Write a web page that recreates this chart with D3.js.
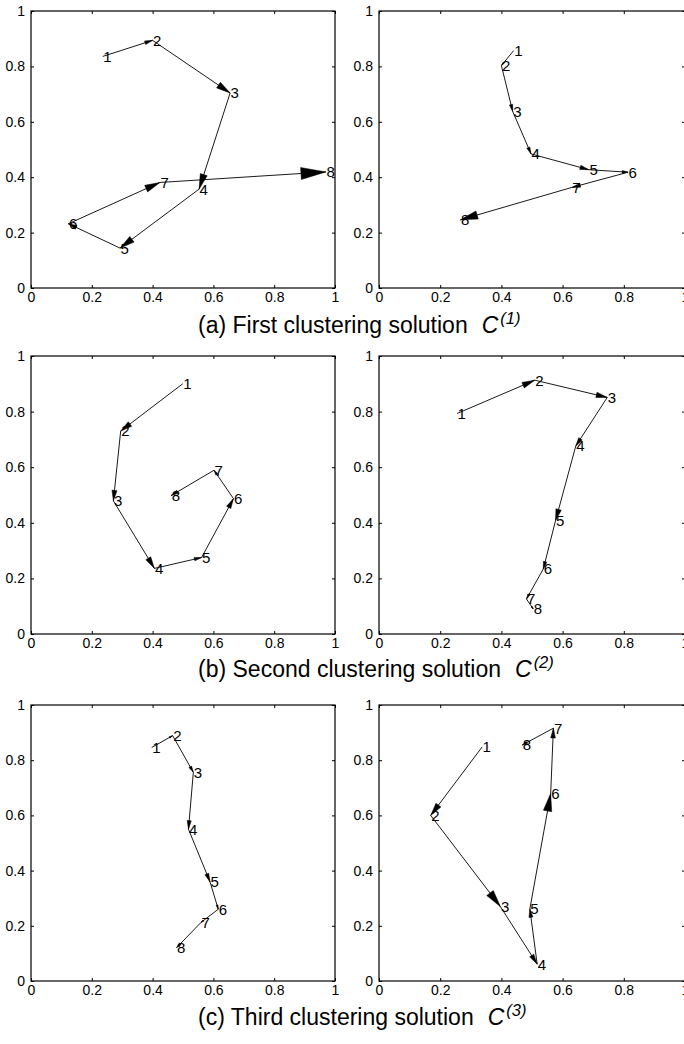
<!DOCTYPE html>
<html><head><meta charset="utf-8">
<script src="https://cdn.jsdelivr.net/npm/d3@7"></script>
<style>body{margin:0;background:#fff}svg{display:block}</style>
</head><body>
<svg id="chart" width="684" height="1044"></svg>
<script>
// ---- data ----
const tickValues = [0, 0.2, 0.4, 0.6, 0.8, 1];
const tickLabels = ["0", "0.2", "0.4", "0.6", "0.8", "1"];
const pointLabels = ["1", "2", "3", "4", "5", "6", "7", "8"];
const captionTexts = ["(a) First clustering solution", "(b) Second clustering solution", "(c) Third clustering solution"];
const captionSups = ["(1)", "(2)", "(3)"];

const firstLeftX  = [0.236, 0.400, 0.655, 0.553, 0.293, 0.123, 0.424, 0.970];
const firstLeftY  = [0.836, 0.894, 0.704, 0.357, 0.144, 0.232, 0.381, 0.419];
const firstRightX = [0.440, 0.400, 0.437, 0.497, 0.686, 0.814, 0.630, 0.266];
const firstRightY = [0.857, 0.803, 0.637, 0.484, 0.427, 0.418, 0.363, 0.246];
const secondLeftX  = [0.499, 0.295, 0.271, 0.406, 0.561, 0.666, 0.602, 0.461];
const secondLeftY  = [0.900, 0.730, 0.479, 0.236, 0.275, 0.487, 0.589, 0.498];
const secondRightX = [0.255, 0.509, 0.746, 0.643, 0.577, 0.537, 0.482, 0.504];
const secondRightY = [0.793, 0.913, 0.851, 0.676, 0.408, 0.234, 0.126, 0.090];
const thirdLeftX  = [0.397, 0.466, 0.534, 0.518, 0.589, 0.616, 0.559, 0.479];
const thirdLeftY  = [0.846, 0.889, 0.756, 0.550, 0.359, 0.260, 0.212, 0.121];
const thirdRightX = [0.337, 0.169, 0.397, 0.517, 0.493, 0.561, 0.570, 0.468];
const thirdRightY = [0.848, 0.600, 0.269, 0.061, 0.261, 0.679, 0.916, 0.855];

// ---- layout ----
const rowTops = [11, 356, 705];
const rowBottoms = [288, 634, 981];
const colLefts = [31, 379];
const colRights = [335, 685];
const captionBaselines = [333, 677, 1025];
const captionX = 198;
const FONT = "'Liberation Sans', Arial, Helvetica, sans-serif";

const panels = [
  {row: 0, col: 0, xs: firstLeftX, ys: firstLeftY},
  {row: 0, col: 1, xs: firstRightX, ys: firstRightY},
  {row: 1, col: 0, xs: secondLeftX, ys: secondLeftY},
  {row: 1, col: 1, xs: secondRightX, ys: secondRightY},
  {row: 2, col: 0, xs: thirdLeftX, ys: thirdLeftY},
  {row: 2, col: 1, xs: thirdRightX, ys: thirdRightY}
];

const svg = d3.select("#chart");
svg.append("rect").attr("width", 684).attr("height", 1044).attr("fill", "#fff");

panels.forEach(p => {
  const L = colLefts[p.col], R = colRights[p.col];
  const T = rowTops[p.row], B = rowBottoms[p.row];
  const x = d3.scaleLinear().domain([0, 1]).range([L, R]);
  const y = d3.scaleLinear().domain([0, 1]).range([B, T]);
  const g = svg.append("g");
  const fmt = (d, i) => tickLabels[i];

  const styleAxis = sel => {
    sel.select(".domain").remove();
    sel.selectAll("line").attr("stroke", "#000").attr("stroke-width", 1);
    sel.selectAll("text").attr("fill", "#000").style("font-family", FONT).style("font-size", "14px");
  };

  g.append("g").attr("transform", `translate(0,${B})`)
    .call(d3.axisBottom(x).tickValues(tickValues).tickFormat(fmt).tickSizeInner(-3).tickSizeOuter(0).tickPadding(4))
    .call(styleAxis);
  g.append("g").attr("transform", `translate(0,${T})`)
    .call(d3.axisTop(x).tickValues(tickValues).tickFormat("").tickSizeInner(-3).tickSizeOuter(0))
    .call(styleAxis);
  g.append("g").attr("transform", `translate(${L},0)`)
    .call(d3.axisLeft(y).tickValues(tickValues).tickFormat(fmt).tickSizeInner(-3).tickSizeOuter(0).tickPadding(6))
    .call(styleAxis);
  g.append("g").attr("transform", `translate(${R},0)`)
    .call(d3.axisRight(y).tickValues(tickValues).tickFormat("").tickSizeInner(-3).tickSizeOuter(0))
    .call(styleAxis);

  g.append("rect").attr("x", L).attr("y", T).attr("width", R - L).attr("height", B - T)
    .attr("fill", "none").attr("stroke", "#000").attr("stroke-width", 1.2);

  const pts = p.xs.map((v, i) => [x(v), y(p.ys[i])]);
  const segs = d3.pairs(pts);

  g.selectAll("line.seg").data(segs).join("line").attr("class", "seg")
    .attr("x1", d => d[0][0]).attr("y1", d => d[0][1])
    .attr("x2", d => d[1][0]).attr("y2", d => d[1][1])
    .attr("stroke", "#000").attr("stroke-width", 0.9);

  g.selectAll("path.head").data(segs).join("path").attr("class", "head")
    .attr("d", d => {
      const [x0, y0] = d[0], [x1, y1] = d[1];
      const dx = x1 - x0, dy = y1 - y0, len = Math.hypot(dx, dy);
      const ux = dx / len, uy = dy / len;
      const hl = Math.max(3, 0.15 * len), hw = hl * 0.24;
      const bx = x1 - ux * hl, by = y1 - uy * hl;
      return `M${x1},${y1}L${bx - uy * hw},${by + ux * hw}L${bx + uy * hw},${by - ux * hw}Z`;
    })
    .attr("fill", "#000").attr("stroke", "#000").attr("stroke-width", 0.5);

  g.selectAll("text.lab").data(pts).join("text").attr("class", "lab")
    .attr("x", d => d[0] + 0.5).attr("y", d => d[1]).attr("dy", "0.36em")
    .attr("text-anchor", "start")
    .style("font-family", FONT).style("font-size", "15px").attr("fill", "#000")
    .text((d, i) => pointLabels[i]);
});

captionTexts.forEach((t, i) => {
  const txt = svg.append("text").attr("x", captionX).attr("y", captionBaselines[i])
    .style("font-family", FONT).style("font-size", "23px").attr("fill", "#000");
  txt.append("tspan").text(t);
  txt.append("tspan").attr("dx", 14).style("font-style", "italic").text("C");
  txt.append("tspan").attr("dx", 2).attr("dy", -9).style("font-style", "italic").style("font-size", "16.5px").text(captionSups[i]);
});
</script>
</body></html>
